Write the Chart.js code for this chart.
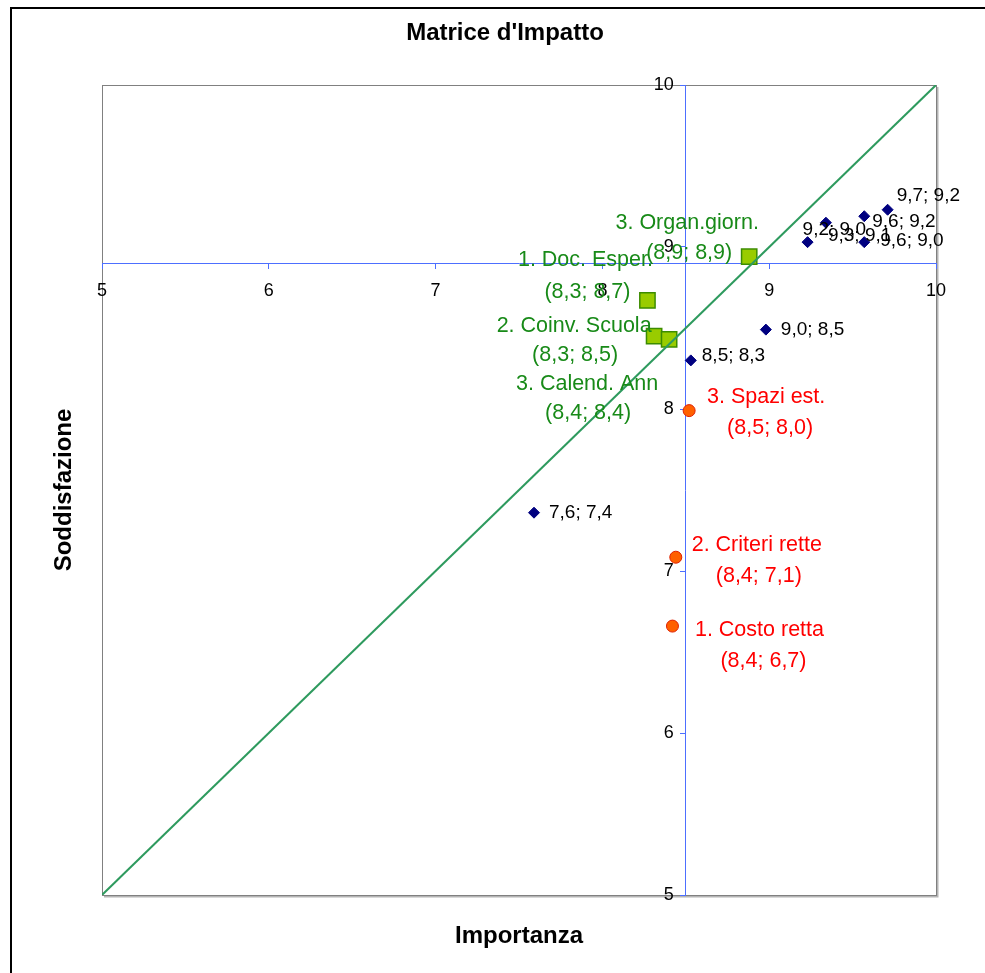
<!DOCTYPE html>
<html><head><meta charset="utf-8">
<script src="https://cdn.jsdelivr.net/npm/chart.js@4"></script>
<style>html,body{margin:0;padding:0;background:#fff;overflow:hidden;} canvas{display:block;}</style>
</head><body>
<canvas id="c" width="985" height="973"></canvas>
<script>
// ---- text ----
const chartTitle = "Matrice d'Impatto";
const xAxisTitle = "Importanza";
const yAxisTitle = "Soddisfazione";

// ---- axes ----
const axisMin = 5, axisMax = 10, axisStep = 1;
const xCross = 8.5;   // vertical axis crosses at Importanza = 8.5
const yCross = 8.9;   // horizontal axis crosses at Soddisfazione = 8.9

// ---- diagonal reference line ----
const diagonalX = [5, 10];
const diagonalY = [5, 10];

// ---- blue diamonds ----
const blueX = [9.23, 9.34, 9.57, 9.71, 9.57, 8.98, 8.53, 7.59];
const blueY = [9.03, 9.15, 9.19, 9.23, 9.03, 8.49, 8.30, 7.36];
const blueLabels = ["9,2; 9,0", "9,3; 9,1", "9,6; 9,2", "9,7; 9,2", "9,6; 9,0", "9,0; 8,5", "8,5; 8,3", "7,6; 7,4"];

// ---- green squares ----
const greenX = [8.88, 8.27, 8.31, 8.40];
const greenY = [8.94, 8.67, 8.45, 8.43];
const greenNames = ["3. Organ.giorn.", "1. Doc. Esper.", "2. Coinv. Scuola", "3. Calend. Ann"];
const greenCoords = ["(8,9; 8,9)", "(8,3; 8,7)", "(8,3; 8,5)", "(8,4; 8,4)"];

// ---- red circles ----
const redX = [8.52, 8.44, 8.42];
const redY = [7.99, 7.085, 6.66];
const redNames = ["3. Spazi est.", "2. Criteri rette", "1. Costo retta"];
const redCoords = ["(8,5; 8,0)", "(8,4; 7,1)", "(8,4; 6,7)"];

// ---- label placement (pixel offsets from each point; style only) ----
const blueLabelOffsets = [[-5,-12],[2,13],[8,6],[9,-14],[16,-1],[15,0],[11,-5],[15,0]];
const greenLabelOffsets = [[-62,-34,-60,-4],[-62,-40,-60,-8],[-80,-10,-79,19],[-82,45,-81,74]];
const redLabelOffsets = [[77,-14,81,17],[81,-12,83,19],[87,4,91,35]];

const FONT = "Arial, 'Liberation Sans', Helvetica, sans-serif";
const AXIS_BLUE = '#4d6fff';
const TICK_FONT_SIZE = 18;

function pts(xs, ys) { return xs.map((x, i) => ({x: x, y: ys[i]})); }

const decor = {
  id: 'decor',
  beforeDraw(chart) {
    const {ctx, chartArea: a} = chart;
    ctx.save();
    ctx.fillStyle = '#fff';
    ctx.fillRect(0, 0, chart.width, chart.height);
    // outer frame
    ctx.strokeStyle = '#000'; ctx.lineWidth = 2;
    ctx.beginPath(); ctx.moveTo(11, 973); ctx.lineTo(11, 8); ctx.lineTo(985, 8); ctx.stroke();
    // plot area shadow + border
    ctx.strokeStyle = '#b4b4b4'; ctx.lineWidth = 2;
    ctx.beginPath();
    ctx.moveTo(a.right + 1.5, a.top + 2); ctx.lineTo(a.right + 1.5, a.bottom + 1.5); ctx.lineTo(a.left + 2, a.bottom + 1.5);
    ctx.stroke();
    ctx.strokeStyle = '#808080'; ctx.lineWidth = 1;
    ctx.strokeRect(a.left + 0.5, a.top + 0.5, a.width, a.height);
    // chart title
    ctx.font = 'bold 24px ' + FONT; ctx.fillStyle = '#000';
    ctx.textAlign = 'center'; ctx.textBaseline = 'middle';
    ctx.fillText(chartTitle, 505, 33);
    ctx.restore();
  },
  afterDraw(chart) {
    const {ctx, chartArea: a} = chart;
    const xs = chart.scales.x, ys = chart.scales.y;
    ctx.save();
    // y tick labels, left of the crossing vertical axis
    ctx.font = TICK_FONT_SIZE + 'px ' + FONT; ctx.fillStyle = '#000';
    ctx.textAlign = 'right'; ctx.textBaseline = 'middle';
    const axX = xs.getPixelForValue(xCross);
    ys.ticks.forEach(t => {
      ctx.fillText(ys.getLabelForValue ? String(t.label) : String(t.value), axX - 12, ys.getPixelForValue(t.value));
    });
    // axis titles
    ctx.font = 'bold 24px ' + FONT;
    ctx.textAlign = 'center';
    ctx.fillText(xAxisTitle, (a.left + a.right) / 2, 936);
    ctx.translate(64, (a.top + a.bottom) / 2);
    ctx.rotate(-Math.PI / 2);
    ctx.fillText(yAxisTitle, 0, 0);
    ctx.restore();
  },
  afterDatasetsDraw(chart) {
    const {ctx} = chart;
    ctx.save();
    // blue labels
    const mb = chart.getDatasetMeta(1).data;
    ctx.font = '19px ' + FONT; ctx.fillStyle = '#000'; ctx.textAlign = 'left'; ctx.textBaseline = 'middle';
    mb.forEach((p, i) => {
      const o = blueLabelOffsets[i];
      ctx.fillText(blueLabels[i], p.x + o[0], p.y + o[1]);
    });
    // green labels
    const mg = chart.getDatasetMeta(2).data;
    ctx.font = '21.5px ' + FONT; ctx.fillStyle = '#188a18'; ctx.textAlign = 'center';
    mg.forEach((p, i) => {
      const o = greenLabelOffsets[i];
      ctx.fillText(greenNames[i], p.x + o[0], p.y + o[1]);
      ctx.fillText(greenCoords[i], p.x + o[2], p.y + o[3]);
    });
    // red labels
    const mr = chart.getDatasetMeta(3).data;
    ctx.fillStyle = '#ff0000';
    mr.forEach((p, i) => {
      const o = redLabelOffsets[i];
      ctx.fillText(redNames[i], p.x + o[0], p.y + o[1]);
      ctx.fillText(redCoords[i], p.x + o[2], p.y + o[3]);
    });
    ctx.restore();
  }
};

const tickFont = {family: FONT, size: TICK_FONT_SIZE};

new Chart(document.getElementById('c'), {
  type: 'scatter',
  data: {
    datasets: [
      {type: 'line', data: pts(diagonalX, diagonalY), borderColor: '#2e9a5e', borderWidth: 2, pointRadius: 0, fill: false},
      {data: pts(blueX, blueY), pointStyle: 'rectRot', pointRadius: 5.5, backgroundColor: '#000080', borderColor: '#000080', borderWidth: 1},
      {data: pts(greenX, greenY), pointStyle: 'rect', pointRadius: 10.8, backgroundColor: '#99cc00', borderColor: '#3c8c00', borderWidth: 1.5},
      {data: pts(redX, redY), pointStyle: 'circle', pointRadius: 6, backgroundColor: '#ff6000', borderColor: '#e02000', borderWidth: 1}
    ]
  },
  options: {
    responsive: false,
    animation: false,
    devicePixelRatio: 1,
    layout: {padding: {left: 102, right: 49, top: 85, bottom: 78}},
    plugins: {
      legend: {display: false},
      tooltip: {enabled: false},
      title: {display: false, text: chartTitle}
    },
    scales: {
      x: {
        type: 'linear', min: axisMin, max: axisMax, position: {y: yCross},
        ticks: {stepSize: axisStep, color: '#000', font: tickFont, padding: 12},
        grid: {display: true, drawOnChartArea: false, drawTicks: true, tickLength: 5, color: AXIS_BLUE},
        border: {display: true, color: AXIS_BLUE, width: 1}
      },
      y: {
        type: 'linear', min: axisMin, max: axisMax, position: {x: xCross},
        ticks: {stepSize: axisStep, display: false},
        grid: {display: true, drawOnChartArea: false, drawTicks: true, tickLength: 5, color: AXIS_BLUE},
        border: {display: true, color: AXIS_BLUE, width: 1}
      }
    }
  },
  plugins: [decor]
});
</script>
</body></html>
